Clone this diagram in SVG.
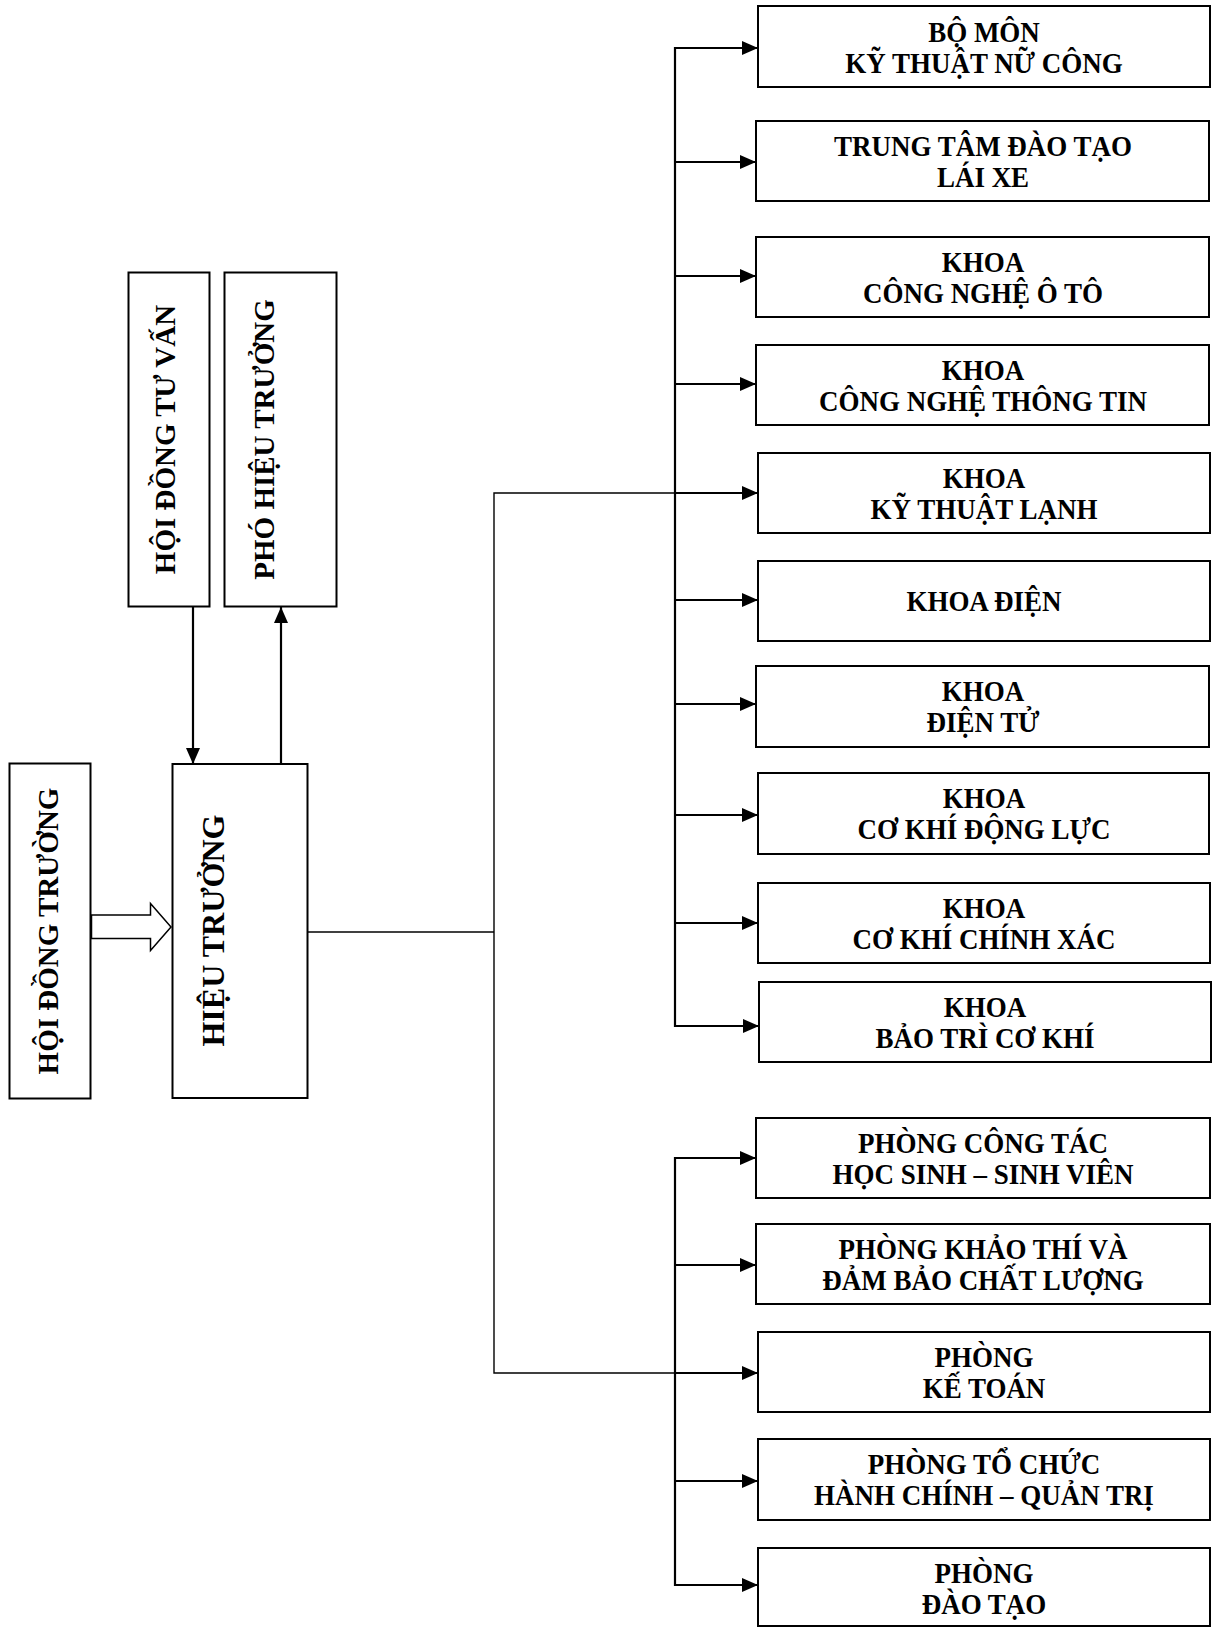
<svg xmlns="http://www.w3.org/2000/svg" width="1213" height="1627" viewBox="0 0 1213 1627">
<defs>
<style>
.box{fill:#fff;stroke:#000;stroke-width:2}
.t{font-family:"Liberation Serif","Times New Roman",serif;font-weight:bold;font-size:27px;text-anchor:middle;fill:#000}
.h{font-size:30px}
.v{font-size:29px}
.thin{fill:none;stroke:#000;stroke-width:1.4}
.bus{fill:none;stroke:#000;stroke-width:2.2}
.arr{fill:none;stroke:#000;stroke-width:2.2;marker-end:url(#ah)}
</style>
<marker id="ah" markerUnits="userSpaceOnUse" markerWidth="16" markerHeight="14" refX="16" refY="7" orient="auto">
<path d="M0,0 L16,7 L0,14 Z" fill="#000"/>
</marker>
</defs>
<rect width="1213" height="1627" fill="#fff"/>

<g id="connectors">
<polygon points="91.5,915 150.5,915 150.5,903.5 171,927 150.5,950.5 150.5,938.5 91.5,938.5" fill="#fff" stroke="#000" stroke-width="1.5"/>
<line class="arr" x1="193" y1="607" x2="193" y2="764"/>
<line class="arr" x1="281" y1="764" x2="281" y2="607"/>
<polyline class="thin" points="308,932 494,932"/>
<polyline class="thin" points="675,493 494,493 494,1373 675,1373"/>
<line class="bus" x1="675" y1="47" x2="675" y2="1027"/>
<line class="bus" x1="675" y1="1157" x2="675" y2="1586"/>
<line class="arr" x1="675" y1="48" x2="758" y2="48"/>
<line class="arr" x1="675" y1="162" x2="756" y2="162"/>
<line class="arr" x1="675" y1="276" x2="756" y2="276"/>
<line class="arr" x1="675" y1="384" x2="756" y2="384"/>
<line class="arr" x1="675" y1="493" x2="758" y2="493"/>
<line class="arr" x1="675" y1="600" x2="758" y2="600"/>
<line class="arr" x1="675" y1="704" x2="756" y2="704"/>
<line class="arr" x1="675" y1="815" x2="758" y2="815"/>
<line class="arr" x1="675" y1="923" x2="758" y2="923"/>
<line class="arr" x1="675" y1="1026" x2="759" y2="1026"/>
<line class="arr" x1="675" y1="1158" x2="756" y2="1158"/>
<line class="arr" x1="675" y1="1265" x2="756" y2="1265"/>
<line class="arr" x1="675" y1="1373" x2="758" y2="1373"/>
<line class="arr" x1="675" y1="1481" x2="758" y2="1481"/>
<line class="arr" x1="675" y1="1585" x2="758" y2="1585"/>
</g>

<g id="hoi-dong-truong">
<rect class="box" x="9.5" y="763.5" width="81" height="335"/>
<text class="t v" transform="translate(57.5,931) rotate(-90)">HỘI ĐỒNG TRƯỜNG</text>
</g>
<g id="hieu-truong">
<rect class="box" x="172.5" y="764" width="135" height="334"/>
<text class="t" style="font-size:32px" transform="translate(223.5,930.5) rotate(-90)">HIỆU TRƯỞNG</text>
</g>
<g id="hoi-dong-tu-van">
<rect class="box" x="128.5" y="272.5" width="81" height="334"/>
<text class="t v" transform="translate(175,439.5) rotate(-90)">HỘI ĐỒNG TƯ VẤN</text>
</g>
<g id="pho-hieu-truong">
<rect class="box" x="224.5" y="272.5" width="112" height="334"/>
<text class="t v" transform="translate(273.5,439.5) rotate(-90)">PHÓ HIỆU TRƯỞNG</text>
</g>

<g id="bo-mon">
<rect class="box" x="758" y="6" width="452" height="81"/>
<text class="t h" transform="translate(984,42) scale(0.9,1)">BỘ MÔN</text>
<text class="t h" transform="translate(984,73) scale(0.9,1)">KỸ THUẬT NỮ CÔNG</text>
</g>
<g id="trung-tam">
<rect class="box" x="756" y="121" width="453" height="80"/>
<text class="t h" transform="translate(983,156) scale(0.9,1)">TRUNG TÂM ĐÀO TẠO</text>
<text class="t h" transform="translate(983,187) scale(0.9,1)">LÁI XE</text>
</g>
<g id="khoa-oto">
<rect class="box" x="756" y="237" width="453" height="80"/>
<text class="t h" transform="translate(983,272) scale(0.9,1)">KHOA</text>
<text class="t h" transform="translate(983,303) scale(0.9,1)">CÔNG NGHỆ Ô TÔ</text>
</g>
<g id="khoa-cntt">
<rect class="box" x="756" y="345" width="453" height="80"/>
<text class="t h" transform="translate(983,380) scale(0.9,1)">KHOA</text>
<text class="t h" transform="translate(983,411) scale(0.9,1)">CÔNG NGHỆ THÔNG TIN</text>
</g>
<g id="khoa-lanh">
<rect class="box" x="758" y="453" width="452" height="80"/>
<text class="t h" transform="translate(984,488) scale(0.9,1)">KHOA</text>
<text class="t h" transform="translate(984,519) scale(0.9,1)">KỸ THUẬT LẠNH</text>
</g>
<g id="khoa-dien">
<rect class="box" x="758" y="561" width="452" height="80"/>
<text class="t h" transform="translate(984,611) scale(0.9,1)">KHOA ĐIỆN</text>
</g>
<g id="khoa-dien-tu">
<rect class="box" x="756" y="666" width="453" height="81"/>
<text class="t h" transform="translate(983,701) scale(0.9,1)">KHOA</text>
<text class="t h" transform="translate(983,732) scale(0.9,1)">ĐIỆN TỬ</text>
</g>
<g id="khoa-ckdl">
<rect class="box" x="758" y="773" width="451" height="81"/>
<text class="t h" transform="translate(984,808) scale(0.9,1)">KHOA</text>
<text class="t h" transform="translate(984,839) scale(0.9,1)">CƠ KHÍ ĐỘNG LỰC</text>
</g>
<g id="khoa-ckcx">
<rect class="box" x="758" y="883" width="452" height="80"/>
<text class="t h" transform="translate(984,918) scale(0.9,1)">KHOA</text>
<text class="t h" transform="translate(984,949) scale(0.9,1)">CƠ KHÍ CHÍNH XÁC</text>
</g>
<g id="khoa-bao-tri">
<rect class="box" x="759" y="982" width="452" height="80"/>
<text class="t h" transform="translate(985,1017) scale(0.9,1)">KHOA</text>
<text class="t h" transform="translate(985,1048) scale(0.9,1)">BẢO TRÌ CƠ KHÍ</text>
</g>

<g id="phong-ctsv">
<rect class="box" x="756" y="1118" width="454" height="80"/>
<text class="t h" transform="translate(983,1153) scale(0.9,1)">PHÒNG CÔNG TÁC</text>
<text class="t h" transform="translate(983,1184) scale(0.9,1)">HỌC SINH – SINH VIÊN</text>
</g>
<g id="phong-khao-thi">
<rect class="box" x="756" y="1224" width="454" height="80"/>
<text class="t h" transform="translate(983,1259) scale(0.9,1)">PHÒNG KHẢO THÍ VÀ</text>
<text class="t h" transform="translate(983,1290) scale(0.9,1)">ĐẢM BẢO CHẤT LƯỢNG</text>
</g>
<g id="phong-ke-toan">
<rect class="box" x="758" y="1332" width="452" height="80"/>
<text class="t h" transform="translate(984,1367) scale(0.9,1)">PHÒNG</text>
<text class="t h" transform="translate(984,1398) scale(0.9,1)">KẾ TOÁN</text>
</g>
<g id="phong-to-chuc">
<rect class="box" x="758" y="1439" width="452" height="81"/>
<text class="t h" transform="translate(984,1474) scale(0.9,1)">PHÒNG TỔ CHỨC</text>
<text class="t h" transform="translate(984,1505) scale(0.9,1)">HÀNH CHÍNH – QUẢN TRỊ</text>
</g>
<g id="phong-dao-tao">
<rect class="box" x="758" y="1548" width="452" height="78"/>
<text class="t h" transform="translate(984,1583) scale(0.9,1)">PHÒNG</text>
<text class="t h" transform="translate(984,1614) scale(0.9,1)">ĐÀO TẠO</text>
</g>
</svg>
